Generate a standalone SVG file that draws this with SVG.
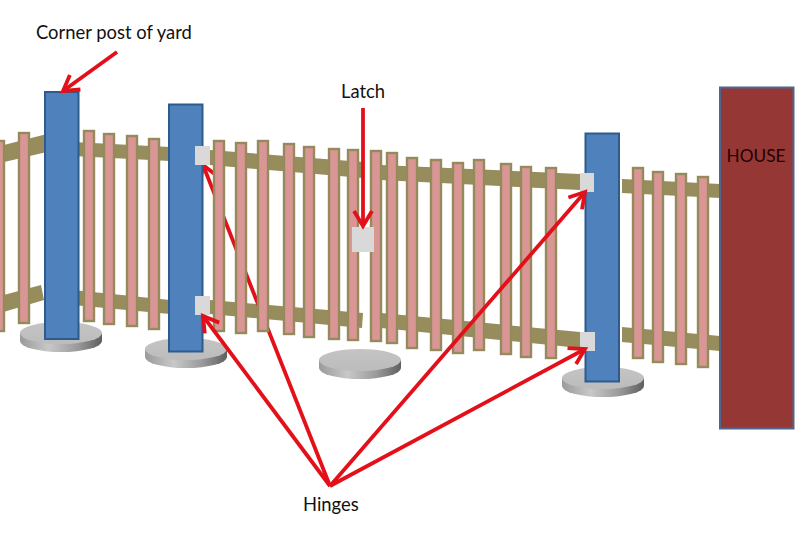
<svg xmlns="http://www.w3.org/2000/svg" width="798" height="542" viewBox="0 0 798 542">
<style>
.rail{fill:#968c5c}
.p{fill:#d99694;stroke:#948a5c;stroke-width:2.4}
.post{fill:#4f81bd;stroke:#2f5a8c;stroke-width:2}
.hinge{fill:#d9d9d9}
.top{fill:url(#dt)}
.side{fill:url(#ds)}
.a{fill:none;stroke:#e3101a;stroke-width:3.8;marker-end:url(#ah)}
text{font-family:Lato,"Liberation Sans",sans-serif;font-size:18.400px;fill:#111}
</style>
<defs>
<linearGradient id="dt" x1="0" y1="0" x2="0" y2="1"><stop offset="0" stop-color="#c4c4c4"/><stop offset="1" stop-color="#bcbcbc"/></linearGradient>
<linearGradient id="ds" x1="0" y1="0" x2="1" y2="0"><stop offset="0" stop-color="#9a9a9a"/><stop offset=".35" stop-color="#c8c8c8"/><stop offset=".7" stop-color="#9a9a9a"/><stop offset="1" stop-color="#5f5f5f"/></linearGradient>
<marker id="ah" markerUnits="userSpaceOnUse" markerWidth="28" markerHeight="28" refX="20" refY="14" orient="auto"><path d="M5 5 L20 14 L5 23" fill="none" stroke="#e3101a" stroke-width="3.8"/></marker>
<path id="disk" d="M-41 0 V8 A41 11 0 0 0 41 8 V0 Z" class="side"/>
</defs>

<g id="disks">
<g id="disk1"><use href="#disk" x="61" y="333"/><ellipse class="top" cx="61" cy="333" rx="41" ry="11"/></g>
<g id="disk2"><use href="#disk" x="186" y="349"/><ellipse class="top" cx="186" cy="349" rx="41" ry="11"/></g>
<g id="disk3"><use href="#disk" x="360" y="360"/><ellipse class="top" cx="360" cy="360" rx="41" ry="11"/></g>
<g id="disk4"><use href="#disk" x="603" y="378"/><ellipse class="top" cx="603" cy="378" rx="41" ry="11"/></g>
</g>

<g id="rails">
<polygon class="rail" points="0,146 47,134 51,151 0,163"/>
<polygon class="rail" points="0,296 41,285 44,300 0,313"/>
<polygon class="rail" points="73,142 170,147 170,161 73,156"/>
<polygon class="rail" points="73,290 170,300 170,314 73,305"/>
<polygon class="rail" points="210,150 363,162 363,178 210,165"/>
<polygon class="rail" points="210,300 363,313 362,328 210,314"/>
<polygon class="rail" points="381,165 580,174 580,190 381,180"/>
<polygon class="rail" points="381,313 580,332 580,348 381,328"/>
<polygon class="rail" points="622,179 720,184 720,198 622,193"/>
<polygon class="rail" points="622,327 720,336 720,351 622,342"/>
</g>

<g id="connectors-behind">
<path class="a" d="M330 486 L203 165"/>
</g>

<g id="pickets">
<rect class="p" x="-7" y="141" width="11" height="190"/>
<rect class="p" x="19" y="133" width="10" height="190"/>
<rect class="p" x="84" y="131" width="10" height="190"/>
<rect class="p" x="104" y="134" width="10" height="190"/>
<rect class="p" x="127" y="136" width="10" height="190"/>
<rect class="p" x="149" y="139" width="10" height="190"/>
<rect class="p" x="214" y="141" width="10" height="190"/>
<rect class="p" x="236" y="143" width="10" height="190"/>
<rect class="p" x="258" y="141" width="10" height="190"/>
<rect class="p" x="284" y="144" width="10" height="190"/>
<rect class="p" x="304" y="147" width="10" height="190"/>
<rect class="p" x="329" y="149" width="10" height="190"/>
<rect class="p" x="348" y="150" width="10" height="190"/>
<rect class="p" x="371" y="151" width="10" height="190"/>
<rect class="p" x="387" y="153" width="10" height="190"/>
<rect class="p" x="407" y="158" width="10" height="190"/>
<rect class="p" x="431" y="160" width="10" height="190"/>
<rect class="p" x="453" y="163" width="10" height="190"/>
<rect class="p" x="474" y="160" width="10" height="190"/>
<rect class="p" x="501" y="164" width="10" height="190"/>
<rect class="p" x="521" y="167" width="10" height="190"/>
<rect class="p" x="546" y="168" width="10" height="190"/>
<rect class="p" x="633" y="168" width="10" height="190"/>
<rect class="p" x="653" y="172" width="10" height="190"/>
<rect class="p" x="676" y="174" width="10" height="190"/>
<rect class="p" x="698" y="177" width="10" height="190"/>
</g>

<g id="post1"><rect class="post" x="45" y="92" width="33.500" height="247"/></g>
<g id="post2"><rect class="post" x="169" y="104.500" width="33.500" height="247"/></g>
<g id="post3"><rect class="post" x="585.500" y="133.500" width="33.500" height="248"/></g>

<g id="house"><rect x="720" y="87.500" width="73.500" height="341" fill="#953735" stroke="#4f6690" stroke-width="2"/><text x="756" y="162" text-anchor="middle" style="font-size:17.200px;fill:#200">HOUSE</text></g>

<g id="hinges">
<rect class="hinge" x="195" y="146" width="15" height="19"/>
<rect class="hinge" x="195" y="296" width="15" height="19"/>
<rect class="hinge" x="580" y="173" width="14" height="19"/>
<rect class="hinge" x="580" y="332" width="15" height="19"/>
</g>
<g id="latch"><rect class="hinge" x="352" y="227" width="22" height="25"/></g>

<g id="connectors">
<path class="a" d="M117 52 L63 91"/>
<path class="a" d="M363 108 L363 226"/>
<path class="a" d="M330 486 L203 316"/>
<path class="a" d="M330 486 L585 192"/>
<path class="a" d="M330 486 L585 349"/>
</g>

<g id="labels">
<text x="36" y="39">Corner post of yard</text>
<text x="341" y="98">Latch</text>
<text x="303" y="511">Hinges</text>
</g>
</svg>
